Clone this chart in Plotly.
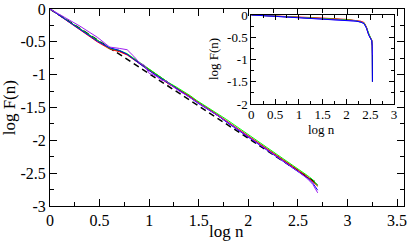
import plotly.graph_objects as go

# ---- main panel data ----
x_main = [0, 0.301, 0.477, 0.602, 0.699, 0.778, 0.845, 0.903, 0.954, 1.0, 1.041, 1.079, 1.114,
          1.146, 1.176, 1.204, 1.255, 1.301, 1.362, 1.415, 1.477, 1.531, 1.602, 1.699, 1.778,
          1.845, 1.903, 2.0, 2.1, 2.2, 2.3, 2.4, 2.5, 2.6, 2.65, 2.7]
y_black = [0, -0.30, -0.48, -0.60, -0.64, -0.69, -0.76, -0.82, -0.88, -0.93, -0.97, -1.01, -1.05,
           -1.08, -1.11, -1.14, -1.19, -1.23, -1.29, -1.34, -1.41, -1.46, -1.53, -1.63, -1.71,
           -1.78, -1.84, -1.94, -2.04, -2.15, -2.25, -2.35, -2.46, -2.56, -2.62, -2.68]
y_red = [0, -0.32, -0.50, -0.61, -0.65, -0.70, -0.77, -0.83, -0.89, -0.94, -0.98, -1.02, -1.05,
         -1.08, -1.12, -1.15, -1.19, -1.23, -1.28, -1.33, -1.40, -1.46, -1.52, -1.62, -1.70,
         -1.77, -1.83, -1.93, -2.03, -2.14, -2.24, -2.35, -2.45, -2.56, -2.63, -2.70]
y_green = [0, -0.30, -0.48, -0.60, -0.63, -0.68, -0.75, -0.81, -0.87, -0.92, -0.96, -1.00, -1.04,
           -1.07, -1.10, -1.13, -1.17, -1.21, -1.27, -1.32, -1.39, -1.44, -1.51, -1.60, -1.68,
           -1.75, -1.81, -1.91, -2.01, -2.12, -2.22, -2.33, -2.43, -2.54, -2.60, -2.69]
y_blue = [0, -0.31, -0.49, -0.59, -0.63, -0.69, -0.77, -0.83, -0.89, -0.94, -0.98, -1.02, -1.06,
          -1.09, -1.12, -1.15, -1.19, -1.24, -1.30, -1.35, -1.42, -1.47, -1.54, -1.63, -1.72,
          -1.79, -1.85, -1.95, -2.05, -2.16, -2.26, -2.37, -2.47, -2.58, -2.65, -2.76]
y_violet = [0, -0.26, -0.43, -0.58, -0.60, -0.62, -0.72, -0.82, -0.86, -0.98, -1.00, -1.03, -1.08,
            -1.09, -1.10, -1.14, -1.20, -1.25, -1.30, -1.35, -1.41, -1.46, -1.53, -1.63, -1.71,
            -1.78, -1.84, -1.95, -2.05, -2.16, -2.26, -2.37, -2.47, -2.59, -2.67, -2.80]
x_fit = [0, 2.7]
y_fit = [0, -2.66]

# ---- inset data ----
x_ins = [0, 0.5, 1.0, 1.5, 2.0, 2.2, 2.3, 2.37, 2.42, 2.45, 2.47, 2.5, 2.53, 2.54, 2.545]
yi_black = [0, -0.025, -0.05, -0.08, -0.11, -0.13, -0.15, -0.18, -0.28, -0.39, -0.44, -0.51, -0.57, -0.68, -1.5]
yi_red = [0, -0.02, -0.04, -0.07, -0.10, -0.12, -0.14, -0.17, -0.27, -0.40, -0.44, -0.50, -0.56, -0.65, -0.80]
yi_green = [0, -0.025, -0.05, -0.08, -0.11, -0.13, -0.15, -0.18, -0.28, -0.38, -0.43, -0.50, -0.56, -0.65, -0.85]
yi_violet = [0, -0.03, -0.055, -0.085, -0.115, -0.135, -0.155, -0.19, -0.29, -0.41, -0.45, -0.51, -0.57, -0.66, -0.9]
yi_blue = [0, -0.03, -0.06, -0.09, -0.12, -0.14, -0.16, -0.20, -0.30, -0.42, -0.46, -0.52, -0.58, -0.70, -1.5]

xticks_main = [0, 0.5, 1, 1.5, 2, 2.5, 3, 3.5]
xtick_text_main = ["0", "0.5", "1", "1.5", "2", "2.5", "3", "3.5"]
yticks_main = [0, -0.5, -1, -1.5, -2, -2.5, -3]
ytick_text_main = ["0", "-0.5", "-1", "-1.5", "-2", "-2.5", "-3"]
xticks_ins = [0, 0.5, 1, 1.5, 2, 2.5, 3]
xtick_text_ins = ["0", "0.5", "1", "1.5", "2", "2.5", "3"]
yticks_ins = [0, -0.5, -1, -1.5, -2]
ytick_text_ins = ["0", "-0.5", "-1", "-1.5", "-2"]

colors = {"black": "#000000", "red": "#ff0000", "green": "#00ff00", "blue": "#0000ff", "violet": "#a020f0"}

fig = go.Figure()
fig.add_trace(go.Scatter(x=x_fit, y=y_fit, mode="lines", line=dict(color="black", width=1.5, dash="6px,4px"),
                         showlegend=False, xaxis="x", yaxis="y"))
for name, ys in [("black", y_black), ("red", y_red), ("green", y_green), ("blue", y_blue), ("violet", y_violet)]:
    fig.add_trace(go.Scatter(x=x_main, y=ys, mode="lines", line=dict(color=colors[name], width=1),
                             showlegend=False, xaxis="x", yaxis="y"))
for name, ys in [("black", yi_black), ("red", yi_red), ("green", yi_green), ("violet", yi_violet), ("blue", yi_blue)]:
    fig.add_trace(go.Scatter(x=x_ins, y=ys, mode="lines", line=dict(color=colors[name], width=1),
                             showlegend=False, xaxis="x2", yaxis="y2"))

font = "Liberation Serif"
W, H = 409, 242
L, R, T, B = 50, 2, 7, 36
pw, ph = W - L - R, H - T - B

def fx(px):
    return (px - L) / pw

def fy(py):
    return (H - B - py) / ph

axis_common = dict(showline=True, linecolor="black", linewidth=1, mirror="allticks",
                   ticks="inside", tickcolor="black", showgrid=False, zeroline=False)

fig.update_layout(
    width=W, height=H,
    margin=dict(l=L, r=R, t=T, b=B),
    paper_bgcolor="white", plot_bgcolor="white",
    font=dict(family=font, color="black"),
    xaxis=dict(range=[0, 3.57], tickvals=xticks_main, ticktext=xtick_text_main, ticklen=7,
               minor=dict(ticks="inside", dtick=0.25, ticklen=4, tickcolor="black", tick0=0),
               tickfont=dict(size=16, family=font), ticklabelstandoff=0,
               domain=[0, 1], anchor="y", **axis_common),
    yaxis=dict(range=[-3, 0], tickvals=yticks_main, ticktext=ytick_text_main, ticklen=7,
               minor=dict(ticks="inside", dtick=0.25, ticklen=4, tickcolor="black", tick0=0),
               tickfont=dict(size=16, family=font),
               domain=[0, 1], anchor="x", **axis_common),
    xaxis2=dict(range=[0, 3], tickvals=xticks_ins, ticktext=xtick_text_ins, ticklen=5,
                minor=dict(ticks="inside", dtick=0.25, ticklen=3, tickcolor="black", tick0=0),
                tickfont=dict(size=13, family=font), ticklabelstandoff=-2,
                domain=[fx(253), fx(397)], anchor="y2", **axis_common),
    yaxis2=dict(range=[-2, 0], tickvals=yticks_ins, ticktext=ytick_text_ins, ticklen=5,
                minor=dict(ticks="inside", dtick=0.25, ticklen=3, tickcolor="black", tick0=0),
                tickfont=dict(size=13, family=font),
                domain=[fy(103), fy(13)], anchor="x2", **axis_common),
    annotations=[
        dict(text="log n", x=fx(228), y=fy(232), xref="paper", yref="paper", showarrow=False,
             font=dict(size=17, family=font), xanchor="center", yanchor="middle"),
        dict(text="log F(n)", x=fx(10), y=fy(107), xref="paper", yref="paper", showarrow=False,
             font=dict(size=17, family=font), textangle=-90, xanchor="center", yanchor="middle"),
        dict(text="log n", x=fx(324), y=fy(129), xref="paper", yref="paper", showarrow=False,
             font=dict(size=13, family=font), xanchor="center", yanchor="middle"),
        dict(text="log F(n)", x=fx(215), y=fy(58), xref="paper", yref="paper", showarrow=False,
             font=dict(size=13, family=font), textangle=-90, xanchor="center", yanchor="middle"),
    ],
)

fig.write_html("out.html", config={"displayModeBar": False},
               post_script="document.body.style.margin='0';document.body.style.padding='0';")
